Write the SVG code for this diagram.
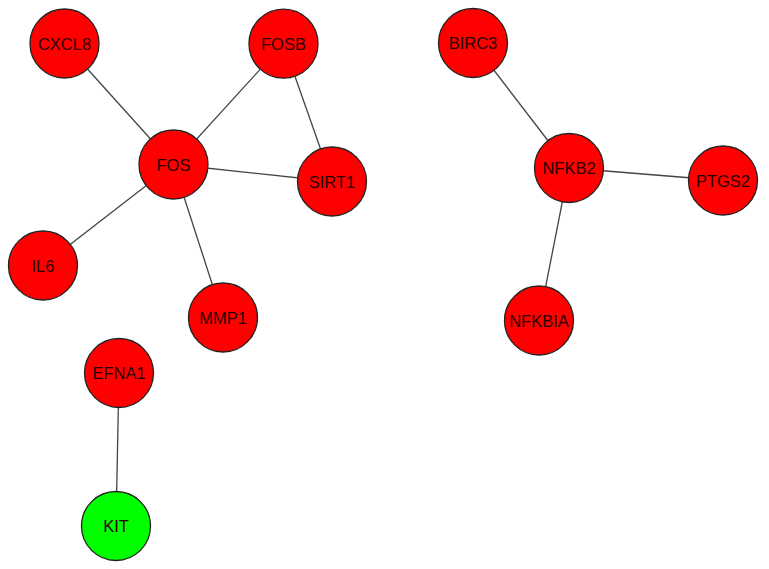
<svg xmlns="http://www.w3.org/2000/svg" width="769" height="569" viewBox="0 0 769 569">
<style>
.n circle{stroke:#222;stroke-width:1.3}
.r circle{fill:#ff0000}
.g circle{fill:#00ff00}
.n text{font-family:"Liberation Sans",Arial,sans-serif;font-size:16.5px;fill:#2a0000;text-anchor:middle;dominant-baseline:central}
.e line{stroke:#444;stroke-width:1.3}
</style>
<rect width="769" height="569" fill="#fff"/>
<g id="edges" class="e">
<line x1="64.5" y1="43.5" x2="173.5" y2="164.5"/>
<line x1="283.5" y1="43.7" x2="173.5" y2="164.5"/>
<line x1="283.5" y1="43.7" x2="332" y2="181.5"/>
<line x1="173.5" y1="164.5" x2="332" y2="181.5"/>
<line x1="173.5" y1="164.5" x2="43" y2="265.5"/>
<line x1="173.5" y1="164.5" x2="223" y2="317.5"/>
<line x1="473" y1="43" x2="569" y2="168"/>
<line x1="569" y1="168" x2="723" y2="180.5"/>
<line x1="569" y1="168" x2="539" y2="320.5"/>
<line x1="119" y1="373" x2="116" y2="526"/>
</g>
<g id="CXCL8" class="n r"><circle cx="64.5" cy="43.5" r="34.5"/><text x="64.5" y="43.5">CXCL8</text></g>
<g id="FOSB" class="n r"><circle cx="283.5" cy="43.7" r="34.5"/><text x="283.5" y="43.7">FOSB</text></g>
<g id="FOS" class="n r"><circle cx="173.5" cy="164.5" r="34.5"/><text x="173.5" y="164.5">FOS</text></g>
<g id="SIRT1" class="n r"><circle cx="332" cy="181.5" r="34.5"/><text x="332" y="181.5">SIRT1</text></g>
<g id="IL6" class="n r"><circle cx="43" cy="265.5" r="34.5"/><text x="43" y="265.5">IL6</text></g>
<g id="MMP1" class="n r"><circle cx="223" cy="317.5" r="34.5"/><text x="223" y="317.5">MMP1</text></g>
<g id="BIRC3" class="n r"><circle cx="473" cy="43" r="34.5"/><text x="473" y="43">BIRC3</text></g>
<g id="NFKB2" class="n r"><circle cx="569" cy="168" r="34.5"/><text x="569" y="168">NFKB2</text></g>
<g id="PTGS2" class="n r"><circle cx="723" cy="180.5" r="34.5"/><text x="723" y="180.5">PTGS2</text></g>
<g id="NFKBIA" class="n r"><circle cx="539" cy="320.5" r="34.5"/><text x="539" y="320.5">NFKBIA</text></g>
<g id="EFNA1" class="n r"><circle cx="119" cy="373" r="34.5"/><text x="119" y="373">EFNA1</text></g>
<g id="KIT" class="n g"><circle cx="116" cy="526" r="34.5"/><text x="116" y="526">KIT</text></g>
</svg>
